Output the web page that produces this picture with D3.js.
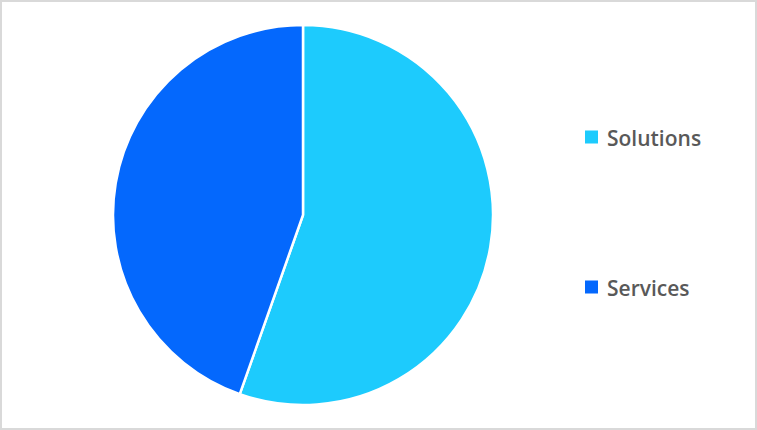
<!DOCTYPE html>
<html>
<head>
<meta charset="utf-8">
<script src="https://cdn.jsdelivr.net/npm/d3@7"></script>
<style>
  html, body { margin: 0; padding: 0; background: #fff; }
</style>
</head>
<body>
<script>
// data
const categories = ['Solutions', 'Services'];
const shares = [55.4, 44.6];
const colors = ['#1DCBFD', '#0468FD'];

const width = 757;
const height = 430;

const svg = d3.select('body')
    .append('svg')
    .attr('width', width)
    .attr('height', height);

// frame
svg.append('rect')
    .attr('x', 1)
    .attr('y', 1)
    .attr('width', width - 2)
    .attr('height', height - 2)
    .attr('fill', '#fff')
    .attr('stroke', '#D9D9D9')
    .attr('stroke-width', 2);

const cx = 303;
const cy = 215;
const radius = 190;

const pie = d3.pie().sort(null).value(d => d);
const arc = d3.arc().innerRadius(0).outerRadius(radius);

const color = d3.scaleOrdinal().domain(categories).range(colors);

svg.append('g')
    .attr('transform', 'translate(' + cx + ', ' + cy + ')')
    .selectAll('path')
    .data(pie(shares))
    .enter()
    .append('path')
    .attr('d', arc)
    .attr('fill', (d, i) => color(categories[i]))
    .attr('stroke', '#fff')
    .attr('stroke-width', 2.5)
    .attr('stroke-linejoin', 'round');

// legend
const legendY = d3.scalePoint()
    .domain(categories)
    .range([137, 287]);

const legend = svg.selectAll('g.legend')
    .data(categories)
    .enter()
    .append('g')
    .attr('class', 'legend')
    .attr('transform', d => 'translate(585, ' + legendY(d) + ')');

legend.append('rect')
    .attr('x', 0)
    .attr('y', -6.5)
    .attr('width', 13)
    .attr('height', 13)
    .attr('fill', d => color(d));

legend.append('text')
    .attr('x', 22)
    .attr('y', 9)
    .attr('font-family', '"Open Sans", sans-serif')
    .attr('font-weight', 600)
    .attr('font-size', 21)
    .attr('fill', '#595959')
    .text(d => d);
</script>
</body>
</html>
